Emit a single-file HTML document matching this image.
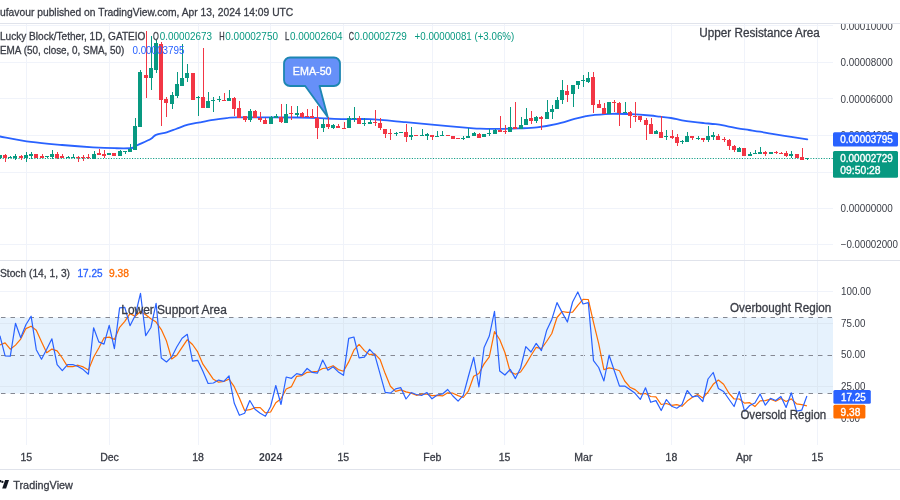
<!DOCTYPE html>
<html><head><meta charset="utf-8"><style>
html,body{margin:0;padding:0;background:#fff;width:900px;height:500px;overflow:hidden}
svg{display:block;font-family:"Liberation Sans", sans-serif;will-change:transform}
</style></head><body>
<svg width="900" height="500" viewBox="0 0 900 500">
<rect width="900" height="500" fill="#ffffff"/>
<path d="M0 25.5H833M0 62.5H833M0 98.5H833M0 135.5H833M0 172.5H833M0 208.5H833M0 244.5H833M0 291.5H833M0 323.5H833M0 386.5H833M0 418.5H833M26.5 24V445M109.5 24V445M198.5 24V445M270.5 24V445M343.5 24V445M432.5 24V445M504.5 24V445M583.5 24V445M671.5 24V445M744.5 24V445M817.5 24V445" stroke="#f0f3fa" stroke-width="1" fill="none"/>
<path d="M0 23.5H900M0 260.5H900M0 469.5H900" stroke="#e0e3eb" stroke-width="1" fill="none"/>
<defs><clipPath id="cm"><rect x="0" y="24" width="833" height="236"/></clipPath><clipPath id="cs"><rect x="0" y="261" width="833" height="184"/></clipPath><clipPath id="cma"><rect x="833" y="24" width="67" height="236"/></clipPath></defs>
<line x1="0" y1="158.5" x2="833" y2="158.5" stroke="#089981" stroke-width="1.1" stroke-dasharray="1.1 1.54"/>
<g clip-path="url(#cm)">
<path d="M0 136.5C5.17 137.40 20.67 140.48 31 141.9C41.33 143.32 51.67 144.10 62 145C72.33 145.90 84.17 146.77 93 147.3C101.83 147.83 108.50 148.08 115 148.2C121.50 148.32 128.28 148.50 132 148C135.72 147.50 134.18 146.70 137.3 145.2C140.42 143.70 147.58 140.73 150.7 139C153.82 137.27 153.33 135.92 156 134.8C158.67 133.68 163.37 133.27 166.7 132.3C170.03 131.33 172.45 130.27 176 129C179.55 127.73 184.00 125.82 188 124.7C192.00 123.58 195.78 123.10 200 122.3C204.22 121.50 208.85 120.60 213.3 119.9C217.75 119.20 222.70 118.53 226.7 118.1C230.70 117.67 225.08 117.40 237.3 117.3C249.52 117.20 285.05 117.30 300 117.5C314.95 117.70 319.17 118.22 327 118.5C334.83 118.78 339.83 119.08 347 119.2C354.17 119.32 360.23 118.70 370 119.2C379.77 119.70 395.27 121.30 405.6 122.2C415.93 123.10 421.60 123.67 432 124.6C442.40 125.53 460.00 127.12 468 127.8C476.00 128.48 474.83 128.52 480 128.7C485.17 128.88 492.67 128.95 499 128.9C505.33 128.85 511.67 128.65 518 128.4C524.33 128.15 530.67 128.10 537 127.4C543.33 126.70 549.75 125.62 556 124.2C562.25 122.78 569.50 120.25 574.5 118.9C579.50 117.55 582.85 116.73 586 116.1C589.15 115.47 589.02 115.48 593.4 115.1C597.78 114.72 606.00 113.95 612.3 113.8C618.60 113.65 624.92 113.92 631.2 114.2C637.48 114.48 645.20 115.08 650 115.5C654.80 115.92 656.50 116.28 660 116.7C663.50 117.12 667.33 117.40 671 118C674.67 118.60 678.33 119.65 682 120.3C685.67 120.95 689.33 121.43 693 121.9C696.67 122.37 700.23 122.72 704 123.1C707.77 123.48 711.82 123.70 715.6 124.2C719.38 124.70 723.00 125.42 726.7 126.1C730.40 126.78 734.08 127.65 737.8 128.3C741.52 128.95 745.30 129.43 749 130C752.70 130.57 756.12 131.05 760 131.7C763.88 132.35 767.10 133.05 772.3 133.9C777.50 134.75 785.37 135.88 791.2 136.8C797.03 137.72 804.62 138.97 807.3 139.4" stroke="#2962ff" stroke-width="1.8" fill="none" stroke-linejoin="round" stroke-linecap="round"/>
<path d="M-2 155h4v3h-4zM8 157h4v1h-4zM10 156h1v1h-1zM13 156h4v2h-4zM15 154h1v2h-1zM15 158h1v2h-1zM24 155h4v3h-4zM26 152h1v3h-1zM26 158h1v4h-1zM29 154h4v2h-4zM31 152h1v2h-1zM31 156h1v3h-1zM45 156h4v1h-4zM47 157h1v1h-1zM50 154h4v3h-4zM52 150h1v4h-1zM52 157h1v2h-1zM66 157h4v1h-4zM68 156h1v1h-1zM71 157h4v1h-4zM73 154h1v3h-1zM92 154h4v5h-4zM94 151h1v3h-1zM107 153h4v2h-4zM118 151h4v5h-4zM120 150h1v1h-1zM123 151h4v1h-4zM125 152h1v2h-1zM128 149h4v3h-4zM130 144h1v5h-1zM133 126h4v24h-4zM135 118h1v8h-1zM138 72h4v55h-4zM140 70h1v2h-1zM149 68h4v10h-4zM151 36h1v32h-1zM151 78h1v12h-1zM154 43h4v27h-4zM156 40h1v3h-1zM156 70h1v3h-1zM170 95h4v9h-4zM172 92h1v3h-1zM172 104h1v5h-1zM175 84h4v12h-4zM177 72h1v12h-1zM177 96h1v2h-1zM180 78h4v8h-4zM182 44h1v34h-1zM185 73h4v5h-4zM187 64h1v9h-1zM187 78h1v4h-1zM196 97h4v1h-4zM198 96h1v1h-1zM198 98h1v18h-1zM206 101h4v7h-4zM208 92h1v9h-1zM211 100h4v1h-4zM213 97h1v3h-1zM213 101h1v11h-1zM217 99h4v1h-4zM219 96h1v3h-1zM219 100h1v2h-1zM227 98h4v3h-4zM229 90h1v8h-1zM248 111h4v9h-4zM250 109h1v2h-1zM250 120h1v2h-1zM269 117h4v7h-4zM271 116h1v1h-1zM274 116h4v2h-4zM276 114h1v2h-1zM284 114h4v9h-4zM286 104h1v10h-1zM295 113h4v2h-4zM297 106h1v7h-1zM297 115h1v2h-1zM321 124h4v4h-4zM323 119h1v5h-1zM323 128h1v4h-1zM331 125h4v3h-4zM333 124h1v1h-1zM333 128h1v1h-1zM347 118h4v10h-4zM349 116h1v2h-1zM352 118h4v1h-4zM354 107h1v11h-1zM354 119h1v3h-1zM362 123h4v1h-4zM364 118h1v5h-1zM364 124h1v2h-1zM368 122h4v2h-4zM370 120h1v2h-1zM394 133h4v1h-4zM396 132h1v1h-1zM396 134h1v2h-1zM399 132h4v1h-4zM409 135h4v2h-4zM411 127h1v8h-1zM411 137h1v3h-1zM420 135h4v1h-4zM422 129h1v6h-1zM425 134h4v2h-4zM427 133h1v1h-1zM427 136h1v4h-1zM435 136h4v1h-4zM437 131h1v5h-1zM440 135h4v1h-4zM442 131h1v4h-1zM461 138h4v1h-4zM463 136h1v2h-1zM463 139h1v1h-1zM466 136h4v2h-4zM468 128h1v8h-1zM472 133h4v3h-4zM474 132h1v1h-1zM482 134h4v3h-4zM487 133h4v1h-4zM489 129h1v4h-1zM489 134h1v2h-1zM493 130h4v4h-4zM495 129h1v1h-1zM508 127h4v5h-4zM510 107h1v20h-1zM519 125h4v4h-4zM521 117h1v8h-1zM524 119h4v6h-4zM526 108h1v11h-1zM534 117h4v4h-4zM536 116h1v1h-1zM536 121h1v2h-1zM545 112h4v7h-4zM547 100h1v12h-1zM550 109h4v3h-4zM552 105h1v4h-1zM552 112h1v7h-1zM555 100h4v9h-4zM557 97h1v3h-1zM560 90h4v10h-4zM562 80h1v10h-1zM562 100h1v4h-1zM571 85h4v9h-4zM573 94h1v13h-1zM576 81h4v4h-4zM578 85h1v4h-1zM581 80h4v1h-4zM583 75h1v5h-1zM583 81h1v6h-1zM586 78h4v4h-4zM588 72h1v6h-1zM588 82h1v1h-1zM607 102h4v12h-4zM623 112h4v1h-4zM625 102h1v10h-1zM654 131h4v3h-4zM656 130h1v1h-1zM664 136h4v1h-4zM666 130h1v6h-1zM666 137h1v3h-1zM680 141h4v1h-4zM682 140h1v1h-1zM682 142h1v2h-1zM685 136h4v6h-4zM687 132h1v4h-1zM696 138h4v1h-4zM698 136h1v2h-1zM698 139h1v1h-1zM706 136h4v4h-4zM708 126h1v10h-1zM708 140h1v2h-1zM711 135h4v2h-4zM713 132h1v3h-1zM713 137h1v3h-1zM737 148h4v4h-4zM739 147h1v1h-1zM748 154h4v2h-4zM750 152h1v2h-1zM753 153h4v1h-4zM755 150h1v3h-1zM758 152h4v2h-4zM760 147h1v5h-1zM769 152h4v2h-4zM789 154h4v2h-4zM791 151h1v3h-1zM791 156h1v2h-1zM805 158h4v1h-4zM807 159h1v1h-1z" fill="#089981"/><path d="M3 155h4v3h-4zM5 154h1v1h-1zM5 158h1v4h-1zM19 156h4v2h-4zM21 155h1v1h-1zM21 158h1v2h-1zM34 154h4v4h-4zM40 156h4v2h-4zM42 154h1v2h-1zM55 154h4v4h-4zM57 152h1v2h-1zM57 158h1v1h-1zM60 156h4v2h-4zM62 154h1v2h-1zM76 157h4v1h-4zM78 156h1v1h-1zM78 158h1v4h-1zM81 157h4v1h-4zM83 155h1v2h-1zM83 158h1v3h-1zM86 157h4v1h-4zM88 154h1v3h-1zM88 158h1v1h-1zM97 153h4v2h-4zM99 149h1v4h-1zM102 154h4v2h-4zM104 150h1v4h-1zM104 156h1v2h-1zM112 153h4v3h-4zM144 75h4v3h-4zM146 31h1v44h-1zM146 78h1v20h-1zM159 44h4v56h-4zM161 42h1v2h-1zM161 100h1v26h-1zM164 99h4v4h-4zM166 97h1v2h-1zM166 103h1v14h-1zM191 73h4v27h-4zM201 97h4v11h-4zM203 48h1v49h-1zM222 100h4v1h-4zM224 93h1v7h-1zM232 98h4v11h-4zM234 97h1v1h-1zM234 109h1v7h-1zM237 108h4v10h-4zM239 101h1v7h-1zM243 116h4v4h-4zM245 120h1v2h-1zM253 111h4v7h-4zM255 110h1v1h-1zM258 118h4v2h-4zM260 112h1v6h-1zM260 120h1v2h-1zM263 120h4v4h-4zM265 118h1v2h-1zM279 117h4v5h-4zM281 104h1v13h-1zM281 122h1v1h-1zM289 113h4v1h-4zM291 106h1v7h-1zM291 114h1v6h-1zM300 113h4v4h-4zM302 112h1v1h-1zM302 117h1v1h-1zM305 116h4v1h-4zM307 109h1v7h-1zM310 116h4v2h-4zM312 109h1v7h-1zM315 118h4v10h-4zM317 106h1v12h-1zM317 128h1v11h-1zM326 124h4v3h-4zM328 117h1v7h-1zM328 127h1v2h-1zM336 126h4v2h-4zM338 124h1v2h-1zM342 128h4v1h-4zM344 122h1v6h-1zM357 118h4v6h-4zM359 116h1v2h-1zM373 122h4v1h-4zM375 110h1v12h-1zM375 123h1v3h-1zM378 123h4v5h-4zM380 118h1v5h-1zM380 128h1v2h-1zM383 129h4v5h-4zM385 134h1v4h-1zM388 133h4v1h-4zM390 129h1v4h-1zM390 134h1v6h-1zM404 132h4v5h-4zM406 124h1v8h-1zM406 137h1v5h-1zM414 135h4v1h-4zM430 135h4v2h-4zM432 137h1v3h-1zM446 135h4v1h-4zM451 136h4v3h-4zM456 138h4v1h-4zM477 134h4v4h-4zM479 133h1v1h-1zM498 130h4v2h-4zM500 116h1v14h-1zM503 131h4v1h-4zM505 125h1v6h-1zM505 132h1v2h-1zM513 127h4v2h-4zM515 102h1v25h-1zM529 118h4v3h-4zM531 111h1v7h-1zM531 121h1v3h-1zM539 117h4v2h-4zM541 116h1v1h-1zM541 119h1v11h-1zM565 91h4v4h-4zM567 85h1v6h-1zM567 95h1v7h-1zM591 77h4v28h-4zM593 72h1v5h-1zM593 105h1v8h-1zM597 104h4v4h-4zM599 100h1v4h-1zM602 108h4v6h-4zM604 103h1v5h-1zM612 102h4v1h-4zM614 100h1v2h-1zM614 103h1v9h-1zM617 103h4v10h-4zM619 102h1v1h-1zM619 113h1v13h-1zM628 112h4v4h-4zM630 111h1v1h-1zM630 116h1v12h-1zM633 116h4v1h-4zM635 102h1v14h-1zM635 117h1v5h-1zM638 116h4v4h-4zM640 120h1v2h-1zM644 120h4v5h-4zM646 118h1v2h-1zM646 125h1v15h-1zM649 124h4v10h-4zM651 118h1v6h-1zM659 132h4v6h-4zM661 116h1v16h-1zM670 136h4v2h-4zM672 130h1v6h-1zM672 138h1v1h-1zM675 137h4v6h-4zM677 134h1v3h-1zM677 143h1v3h-1zM690 136h4v2h-4zM692 138h1v2h-1zM701 138h4v2h-4zM703 140h1v2h-1zM716 136h4v4h-4zM718 134h1v2h-1zM722 139h4v1h-4zM724 137h1v2h-1zM724 140h1v2h-1zM727 140h4v6h-4zM729 139h1v1h-1zM729 146h1v4h-1zM732 146h4v4h-4zM734 145h1v1h-1zM734 150h1v2h-1zM742 148h4v8h-4zM763 152h4v2h-4zM765 151h1v1h-1zM765 154h1v2h-1zM774 152h4v1h-4zM776 151h1v1h-1zM776 153h1v1h-1zM779 153h4v1h-4zM781 152h1v1h-1zM784 153h4v3h-4zM786 151h1v2h-1zM786 156h1v1h-1zM795 154h4v4h-4zM800 157h4v3h-4zM802 148h1v9h-1z" fill="#f23645"/>
</g>
<path d="M290 57.5H334A6 6 0 0 1 340 63.5V80A6 6 0 0 1 334 86H319.5L327.7 117L305.2 86H290A6 6 0 0 1 284 80V63.5A6 6 0 0 1 290 57.5Z" fill="#6690f8" stroke="#1d86b2" stroke-width="1.8" stroke-linejoin="round"/>
<text x="292.8" y="74.8" font-size="11.8" fill="#ffffff" textLength="38.8" lengthAdjust="spacingAndGlyphs" stroke="#ffffff" stroke-width="0.35" >EMA-50</text>
<text x="0" y="40.2" font-size="10.5" fill="#3a3d46" textLength="145.4" lengthAdjust="spacingAndGlyphs" stroke="#3a3d46" stroke-width="0.3" >Lucky Block/Tether, 1D, GATEIO</text>
<text x="153" y="40.2" font-size="10.5" fill="#3a3d46" textLength="5.8" lengthAdjust="spacingAndGlyphs" stroke="#3a3d46" stroke-width="0.3" >O</text>
<text x="159.7" y="40.2" font-size="10.5" fill="#089981" textLength="52.3" lengthAdjust="spacingAndGlyphs" >0.00002673</text>
<text x="219.2" y="40.2" font-size="10.5" fill="#3a3d46" textLength="5.4" lengthAdjust="spacingAndGlyphs" stroke="#3a3d46" stroke-width="0.3" >H</text>
<text x="225.3" y="40.2" font-size="10.5" fill="#089981" textLength="52.7" lengthAdjust="spacingAndGlyphs" >0.00002750</text>
<text x="284.9" y="40.2" font-size="10.5" fill="#3a3d46" textLength="4.3" lengthAdjust="spacingAndGlyphs" stroke="#3a3d46" stroke-width="0.3" >L</text>
<text x="290" y="40.2" font-size="10.5" fill="#089981" textLength="52.5" lengthAdjust="spacingAndGlyphs" >0.00002604</text>
<text x="348.75" y="40.2" font-size="10.5" fill="#3a3d46" textLength="5.2" lengthAdjust="spacingAndGlyphs" stroke="#3a3d46" stroke-width="0.3" >C</text>
<text x="354.3" y="40.2" font-size="10.5" fill="#089981" textLength="52.6" lengthAdjust="spacingAndGlyphs" >0.00002729</text>
<text x="414.6" y="40.2" font-size="10.5" fill="#089981" textLength="99.6" lengthAdjust="spacingAndGlyphs" >+0.00000081 (+3.06%)</text>
<text x="0" y="54.4" font-size="10.5" fill="#3a3d46" textLength="124.4" lengthAdjust="spacingAndGlyphs" stroke="#3a3d46" stroke-width="0.3" >EMA (50, close, 0, SMA, 50)</text>
<text x="132.4" y="54.4" font-size="10.5" fill="#2962ff" textLength="52.2" lengthAdjust="spacingAndGlyphs" >0.00003795</text>
<text x="699.3" y="37.1" font-size="12" fill="#3a3d46" textLength="120.6" lengthAdjust="spacingAndGlyphs" stroke="#3a3d46" stroke-width="0.3" >Upper Resistance Area</text>
<text x="0" y="16.4" font-size="11" fill="#3a3d46" textLength="293.3" lengthAdjust="spacingAndGlyphs" stroke="#3a3d46" stroke-width="0.3" >ufavour published on TradingView.com, Apr 13, 2024 14:09 UTC</text>
<g clip-path="url(#cma)">
<text x="840.5" y="29.6" font-size="10" fill="#3a3d46" textLength="52.2" lengthAdjust="spacingAndGlyphs" >0.00010000</text>
<text x="840.5" y="66.1" font-size="10" fill="#3a3d46" textLength="52.2" lengthAdjust="spacingAndGlyphs" >0.00008000</text>
<text x="840.5" y="102.5" font-size="10" fill="#3a3d46" textLength="52.2" lengthAdjust="spacingAndGlyphs" >0.00006000</text>
<text x="840.5" y="139.0" font-size="10" fill="#3a3d46" textLength="52.2" lengthAdjust="spacingAndGlyphs" >0.00004000</text>
<text x="840.5" y="175.6" font-size="10" fill="#3a3d46" textLength="52.2" lengthAdjust="spacingAndGlyphs" >0.00002000</text>
<text x="840.5" y="212.1" font-size="10" fill="#3a3d46" textLength="52.2" lengthAdjust="spacingAndGlyphs" >0.00000000</text>
<text x="840.7" y="248.3" font-size="10" fill="#3a3d46" textLength="57.3" lengthAdjust="spacingAndGlyphs" >−0.00002000</text>
</g>
<rect x="833" y="132.2" width="65" height="14.4" rx="1.5" fill="#2962ff"/>
<text x="840.3" y="143.0" font-size="10" fill="#ffffff" textLength="52.5" lengthAdjust="spacingAndGlyphs" stroke="#ffffff" stroke-width="0.35" >0.00003795</text>
<rect x="833" y="151.1" width="65" height="26.6" rx="1.5" fill="#089981"/>
<text x="840.3" y="162.4" font-size="10" fill="#ffffff" textLength="52.5" lengthAdjust="spacingAndGlyphs" stroke="#ffffff" stroke-width="0.35" >0.00002729</text>
<text x="840.3" y="174.4" font-size="10" fill="#ffffff" textLength="40.2" lengthAdjust="spacingAndGlyphs" stroke="#ffffff" stroke-width="0.35" >09:50:28</text>
<g clip-path="url(#cs)">
<rect x="0" y="317.5" width="833.5" height="76" fill="#e6f2fd"/>
<line x1="0" y1="317.5" x2="833" y2="317.5" stroke="#858892" stroke-width="1" stroke-dasharray="4.5 5" stroke-dashoffset="-1"/>
<line x1="0" y1="355.5" x2="833" y2="355.5" stroke="#858892" stroke-width="1" stroke-dasharray="4.5 5" stroke-dashoffset="-1"/>
<line x1="0" y1="393.5" x2="833" y2="393.5" stroke="#858892" stroke-width="1" stroke-dasharray="4.5 5" stroke-dashoffset="-1"/>
<path d="M26.5 318V393M109.5 318V393M198.5 318V393M270.5 318V393M343.5 318V393M432.5 318V393M504.5 318V393M583.5 318V393M671.5 318V393M744.5 318V393M817.5 318V393M0 323.5H833M0 386.5H833" stroke="#dde8f3" stroke-width="1" fill="none"/>
<polyline points="-0.1,345.0 5.1,342.9 10.3,349.2 15.5,345.1 20.7,339.1 25.9,328.6 31.1,326.2 36.3,330.2 41.5,341.7 46.7,352.7 51.9,349.1 57.1,350.9 62.3,358.0 67.6,366.6 72.8,366.6 78.0,365.2 83.2,366.9 88.4,370.1 93.6,357.2 98.8,348.0 104.0,337.9 109.2,337.1 114.4,339.4 119.6,327.3 124.8,321.3 130.0,313.6 135.2,316.2 140.5,311.5 145.7,314.8 150.9,318.8 156.1,322.1 161.3,329.6 166.5,341.1 171.7,359.0 176.9,355.2 182.1,347.3 187.3,339.7 192.5,344.5 197.7,351.9 202.9,364.2 208.1,371.7 213.4,379.3 218.6,382.2 223.8,381.5 229.0,379.1 234.2,386.7 239.4,398.0 244.6,410.5 249.8,409.7 255.0,407.6 260.2,407.6 265.4,412.9 270.6,412.0 275.8,402.7 281.0,398.8 286.2,389.0 291.5,386.6 296.7,376.3 301.9,375.6 307.1,372.3 312.3,371.9 317.5,371.3 322.7,368.5 327.9,367.8 333.1,365.7 338.3,369.6 343.5,371.3 348.7,361.9 353.9,350.2 359.1,344.4 364.4,350.6 369.6,354.7 374.8,353.8 380.0,359.3 385.2,373.6 390.4,386.3 395.6,391.4 400.8,389.9 406.0,391.9 411.2,393.1 416.4,395.3 421.6,394.2 426.8,394.2 432.0,395.6 437.3,395.4 442.5,395.9 447.7,392.8 452.9,393.2 458.1,395.6 463.3,397.5 468.5,390.8 473.7,376.2 478.9,373.5 484.1,363.9 489.3,356.8 494.5,331.6 499.7,339.5 504.9,352.5 510.2,371.8 515.4,374.3 520.6,372.0 525.8,364.4 531.0,355.5 536.2,347.3 541.4,348.7 546.6,341.5 551.8,333.5 557.0,317.5 562.2,311.5 567.4,312.4 572.6,312.2 577.8,305.3 583.0,299.3 588.3,299.5 593.5,322.4 598.7,343.6 603.9,369.7 609.1,367.9 614.3,369.0 619.5,370.7 624.7,381.0 629.9,387.2 635.1,389.6 640.3,394.1 645.5,393.5 650.7,396.5 655.9,396.9 661.2,404.5 666.4,403.5 671.6,405.4 676.8,404.6 682.0,406.3 687.2,401.1 692.4,397.3 697.6,394.4 702.8,398.0 708.0,392.1 713.2,384.3 718.4,380.0 723.6,384.2 728.8,393.0 734.1,399.0 739.3,399.0 744.5,403.1 749.7,402.7 754.9,406.6 760.1,400.8 765.3,400.7 770.5,399.2 775.7,401.3 780.9,398.4 786.1,401.5 791.3,398.9 796.5,403.8 801.7,404.7 806.9,405.8" fill="none" stroke="#ff6d00" stroke-width="1.2" stroke-linejoin="round"/>
<polyline points="-0.1,335.7 5.1,355.8 10.3,356.1 15.5,323.3 20.7,337.8 25.9,324.7 31.1,316.2 36.3,349.7 41.5,359.2 46.7,349.3 51.9,338.8 57.1,364.6 62.3,370.6 67.6,364.6 72.8,364.5 78.0,366.5 83.2,369.6 88.4,374.2 93.6,327.8 98.8,341.9 104.0,344.1 109.2,325.4 114.4,348.7 119.6,307.9 124.8,307.3 130.0,325.7 135.2,315.5 140.5,293.4 145.7,335.6 150.9,327.5 156.1,303.3 161.3,358 166.5,362 171.7,356.9 176.9,346.7 182.1,338.2 187.3,334.3 192.5,361.1 197.7,360.3 202.9,371.3 208.1,383.5 213.4,383 218.6,380.1 223.8,381.3 229.0,375.8 234.2,403 239.4,415.3 244.6,413.2 249.8,400.5 255.0,409.2 260.2,413.2 265.4,416.2 270.6,406.5 275.8,385.5 281.0,404.5 286.2,377 291.5,378.3 296.7,373.6 301.9,374.8 307.1,368.5 312.3,372.4 317.5,373.1 322.7,360 327.9,370.2 333.1,366.8 338.3,371.9 343.5,375.3 348.7,338.4 353.9,337 359.1,357.8 364.4,357.1 369.6,349.3 374.8,354.9 380.0,373.6 385.2,392.3 390.4,393.1 395.6,388.9 400.8,387.7 406.0,399 411.2,392.5 416.4,394.5 421.6,395.5 426.8,392.5 432.0,398.8 437.3,395 442.5,394 447.7,389.5 452.9,396 458.1,401.2 463.3,395.3 468.5,376 473.7,357.4 478.9,387 484.1,347.4 489.3,336 494.5,311.4 499.7,371 504.9,375 510.2,369.4 515.4,378.6 520.6,368 525.8,346.6 531.0,352 536.2,343.4 541.4,350.6 546.6,330.6 551.8,319.4 557.0,302.6 562.2,312.6 567.4,322 572.6,302 577.8,292 583.0,304 588.3,302.6 593.5,360.6 598.7,367.5 603.9,381 609.1,355.2 614.3,370.8 619.5,386.1 624.7,386.1 629.9,389.5 635.1,393.3 640.3,399.4 645.5,387.8 650.7,402.3 655.9,400.6 661.2,410.5 666.4,399.5 671.6,406.2 676.8,408.2 682.0,404.5 687.2,390.5 692.4,396.8 697.6,395.8 702.8,401.5 708.0,379 713.2,372.5 718.4,388.5 723.6,391.5 728.8,399 734.1,406.5 739.3,391.5 744.5,411.2 749.7,405.5 754.9,403 760.1,394 765.3,405.2 770.5,398.3 775.7,400.5 780.9,396.5 786.1,407.5 791.3,392.8 796.5,411.2 801.7,410.2 806.9,396" fill="none" stroke="#2962ff" stroke-width="1.2" stroke-linejoin="round"/>
</g>
<text x="0" y="277.0" font-size="10.5" fill="#3a3d46" textLength="70" lengthAdjust="spacingAndGlyphs" stroke="#3a3d46" stroke-width="0.3" >Stoch (14, 1, 3)</text>
<text x="77.5" y="277.0" font-size="10.5" fill="#2962ff" textLength="25" lengthAdjust="spacingAndGlyphs" stroke="#2962ff" stroke-width="0.3">17.25</text>
<text x="109" y="277.0" font-size="10.5" fill="#ff6d00" textLength="20" lengthAdjust="spacingAndGlyphs" stroke="#ff6d00" stroke-width="0.3">9.38</text>
<text x="121.3" y="313.5" font-size="12" fill="#3a3d46" textLength="105.5" lengthAdjust="spacingAndGlyphs" stroke="#3a3d46" stroke-width="0.3" >Lower Support Area</text>
<text x="730" y="312.3" font-size="12" fill="#3a3d46" textLength="101.3" lengthAdjust="spacingAndGlyphs" stroke="#3a3d46" stroke-width="0.3" >Overbought Region</text>
<text x="740.4" y="418.9" font-size="12" fill="#3a3d46" textLength="85.9" lengthAdjust="spacingAndGlyphs" stroke="#3a3d46" stroke-width="0.3" >Oversold Region</text>
<text x="841" y="295.2" font-size="10" fill="#3a3d46" textLength="30" lengthAdjust="spacingAndGlyphs" >100.00</text>
<text x="841" y="326.8" font-size="10" fill="#3a3d46" textLength="24.5" lengthAdjust="spacingAndGlyphs" >75.00</text>
<text x="841" y="358.4" font-size="10" fill="#3a3d46" textLength="24.5" lengthAdjust="spacingAndGlyphs" >50.00</text>
<text x="841" y="390.0" font-size="10" fill="#3a3d46" textLength="24.5" lengthAdjust="spacingAndGlyphs" >25.00</text>
<text x="841" y="421.6" font-size="10" fill="#3a3d46" textLength="19" lengthAdjust="spacingAndGlyphs" >0.00</text>
<rect x="833.4" y="389.9" width="37.4" height="13.9" rx="1.5" fill="#2962ff"/>
<text x="841" y="401.2" font-size="10" fill="#ffffff" textLength="24.8" lengthAdjust="spacingAndGlyphs" stroke="#ffffff" stroke-width="0.35" >17.25</text>
<rect x="833.4" y="404.7" width="32" height="13.7" rx="1.5" fill="#ff6d00"/>
<text x="840.6" y="415.8" font-size="10" fill="#ffffff" textLength="19.7" lengthAdjust="spacingAndGlyphs" stroke="#ffffff" stroke-width="0.35" >9.38</text>
<text x="26.3" y="461" font-size="10.5" fill="#3a3d46" text-anchor="middle" stroke="#3a3d46" stroke-width="0.3" >15</text>
<text x="109.5" y="461" font-size="10.5" fill="#3a3d46" text-anchor="middle" stroke="#3a3d46" stroke-width="0.3" >Dec</text>
<text x="198" y="461" font-size="10.5" fill="#3a3d46" text-anchor="middle" stroke="#3a3d46" stroke-width="0.3" >18</text>
<text x="270.6" y="461" font-size="10.5" fill="#3a3d46" text-anchor="middle" font-weight="bold" >2024</text>
<text x="343.3" y="461" font-size="10.5" fill="#3a3d46" text-anchor="middle" stroke="#3a3d46" stroke-width="0.3" >15</text>
<text x="432.3" y="461" font-size="10.5" fill="#3a3d46" text-anchor="middle" stroke="#3a3d46" stroke-width="0.3" >Feb</text>
<text x="504.5" y="461" font-size="10.5" fill="#3a3d46" text-anchor="middle" stroke="#3a3d46" stroke-width="0.3" >15</text>
<text x="583.4" y="461" font-size="10.5" fill="#3a3d46" text-anchor="middle" stroke="#3a3d46" stroke-width="0.3" >Mar</text>
<text x="671.4" y="461" font-size="10.5" fill="#3a3d46" text-anchor="middle" stroke="#3a3d46" stroke-width="0.3" >18</text>
<text x="744.2" y="461" font-size="10.5" fill="#3a3d46" text-anchor="middle" stroke="#3a3d46" stroke-width="0.3" >Apr</text>
<text x="817.4" y="461" font-size="10.5" fill="#3a3d46" text-anchor="middle" stroke="#3a3d46" stroke-width="0.3" >15</text>
<path d="M0 480h1.3v2.3h-1.3z" fill="#131722"/>
<circle cx="2.4" cy="481.9" r="1.15" fill="#131722"/>
<path d="M5.1 480H9L6.1 488.5H2.2Z" fill="#131722"/>
<text x="13.3" y="488.7" font-size="10.5" fill="#3a3d46" textLength="59.6" lengthAdjust="spacingAndGlyphs" stroke="#3a3d46" stroke-width="0.3" >TradingView</text>
</svg></body></html>
